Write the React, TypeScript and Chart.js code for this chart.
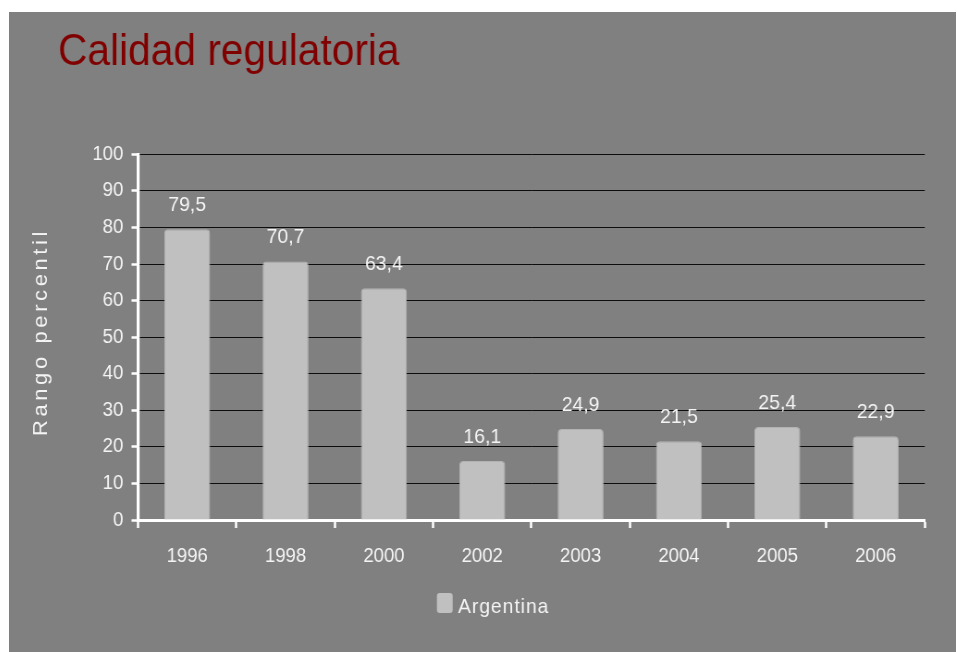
import { useEffect, useRef } from "react";
import { Chart, registerables } from "chart.js";

Chart.register(...registerables);

const TITLE = "Calidad regulatoria";
const Y_TITLE = "Rango percentil";
const SERIES_NAME = "Argentina";
const years = ["1996", "1998", "2000", "2002", "2003", "2004", "2005", "2006"];
const values = [79.5, 70.7, 63.4, 16.1, 24.9, 21.5, 25.4, 22.9];
const Y_MIN = 0;
const Y_MAX = 100;
const Y_STEP = 10;

const FONT = '"Liberation Sans", Arial, sans-serif';
const TEXT = "#f4f4f4";
const BAR = "#c0c0c0";
const SCALE_X = 947 / 1024;

const fmt = (v: number) => v.toFixed(1).replace(".", ",");

const decorations = {
  id: "decorations",
  afterDatasetsDraw(chart: any) {
    const ctx = chart.ctx;
    const meta = chart.getDatasetMeta(0);
    ctx.save();
    ctx.fillStyle = TEXT;
    ctx.font = `21px ${FONT}`;
    ctx.textAlign = "center";
    ctx.textBaseline = "alphabetic";
    meta.data.forEach((el: any, i: number) => {
      ctx.fillText(fmt(values[i]), el.x, el.y - 18);
    });
    ctx.restore();
  },
  afterDraw(chart: any) {
    const ctx = chart.ctx;
    ctx.save();
    // title
    ctx.fillStyle = "#800000";
    ctx.font = `44px ${FONT}`;
    ctx.textAlign = "left";
    ctx.textBaseline = "alphabetic";
    ctx.fillText(TITLE, 53, 53);
    // y title
    ctx.save();
    ctx.translate(41.4, 320);
    ctx.rotate(-Math.PI / 2);
    ctx.fillStyle = TEXT;
    ctx.font = `22px ${FONT}`;
    (ctx as any).letterSpacing = "3.6px";
    ctx.textAlign = "center";
    ctx.fillText(Y_TITLE, 0, 0);
    ctx.restore();
    // legend
    ctx.fillStyle = BAR;
    ctx.beginPath();
    (ctx as any).roundRect(462.7, 581, 17, 20, 3);
    ctx.fill();
    ctx.fillStyle = TEXT;
    ctx.font = `21px ${FONT}`;
    (ctx as any).letterSpacing = "1px";
    ctx.textAlign = "left";
    ctx.fillText(SERIES_NAME, 485.4, 600.7);
    ctx.restore();
  },
};

export default function App() {
  const ref = useRef<HTMLCanvasElement>(null);

  useEffect(() => {
    if (!ref.current) return;
    const chart = new Chart(ref.current, {
      type: "bar",
      data: {
        labels: years,
        datasets: [
          {
            label: SERIES_NAME,
            data: values,
            backgroundColor: BAR,
            borderColor: "#b2b2b2",
            borderWidth: 1,
            borderRadius: 4,
            borderSkipped: "bottom",
            barPercentage: 0.467,
            categoryPercentage: 1,
          },
        ],
      },
      options: {
        animation: false,
        responsive: true,
        maintainAspectRatio: false,
        layout: { padding: { left: 59.5, right: 33.7, top: 142.3, bottom: 72 } },
        plugins: {
          legend: { display: false },
          title: { display: false },
          tooltip: { enabled: false },
        },
        scales: {
          x: {
            z: 1,
            offset: true,
            afterFit: (s: any) => {
              s.height = 60;
            },
            grid: {
              offset: true,
              drawOnChartArea: false,
              drawTicks: true,
              tickLength: 8,
              tickColor: "#ffffff",
              tickWidth: 2.5,
            },
            border: { display: true, color: "#ffffff", width: 3 },
            ticks: {
              color: TEXT,
              font: { family: FONT, size: 20 },
              padding: 16,
              maxRotation: 0,
            },
          },
          y: {
            min: Y_MIN,
            max: Y_MAX,
            afterFit: (s: any) => {
              s.width = 80;
            },
            grid: {
              color: "rgba(0,0,0,0.9)",
              lineWidth: 1,
              drawTicks: true,
              tickLength: 7,
              tickColor: "#ffffff",
              tickWidth: 2.5,
            },
            border: { display: true, color: "#ffffff", width: 3.2 },
            ticks: {
              stepSize: Y_STEP,
              color: TEXT,
              font: { family: FONT, size: 20 },
              padding: 9,
            },
          },
        },
      },
      plugins: [decorations],
    });
    return () => chart.destroy();
  }, []);

  return (
    <div
      style={{
        position: "absolute",
        left: 9,
        top: 12,
        width: 947,
        height: 640,
        background: "#808080",
        overflow: "hidden",
      }}
    >
      <div
        style={{
          width: 1024,
          height: 640,
          transform: `scaleX(${SCALE_X})`,
          transformOrigin: "0 0",
        }}
      >
        <canvas ref={ref} />
      </div>
    </div>
  );
}
